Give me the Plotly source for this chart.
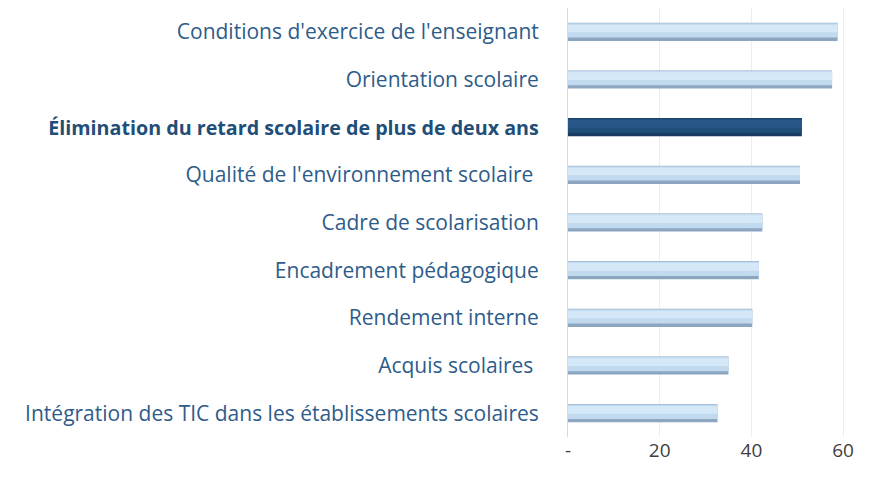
import plotly.graph_objects as go

# Indicator names, top to bottom
categories = [
    "Conditions d'exercice de l'enseignant",
    "Orientation scolaire",
    "Élimination du retard scolaire de plus de deux ans",
    "Qualité de l'environnement scolaire ",
    "Cadre de scolarisation",
    "Encadrement pédagogique",
    "Rendement interne",
    "Acquis scolaires ",
    "Intégration des TIC dans les établissements scolaires",
]
values = [58.8, 57.6, 51.0, 50.6, 42.4, 41.6, 40.2, 35.0, 32.6]
highlight = "Élimination du retard scolaire de plus de deux ans"

x_tickvals = [0, 20, 40, 60]
x_ticktext = ["-", "20", "40", "60"]

LABEL_BLUE = "#2E5C8A"
DARK_BLUE = "#1F4E79"
FONT = "Open Sans, Noto Sans, sans-serif"

# plot bottom-up so the first category sits on top
cats = categories[::-1]
vals = values[::-1]

edge_cols = ["#173B60" if c == highlight else "#8DA6C0" for c in cats]
body_cols = [DARK_BLUE if c == highlight else "#C2DAEF" for c in cats]
shine_cols = ["#275888" if c == highlight else "#D4E8F8" for c in cats]

ticktext = []
for c in cats:
    if c == highlight:
        ticktext.append(
            f"<b><span style='color:{DARK_BLUE};font-size:19.7px'>{c}</span></b>")
    else:
        ticktext.append(c)

fig = go.Figure()
# cylinder look: darker shell, lighter body, soft upper highlight
fig.add_trace(go.Bar(y=cats, x=vals, orientation="h", width=0.38,
                     marker=dict(color=edge_cols, line=dict(width=0)),
                     hoverinfo="skip"))
fig.add_trace(go.Bar(y=cats, x=vals, orientation="h", width=0.30, offset=-0.12,
                     marker=dict(color=body_cols, line=dict(width=0)),
                     hoverinfo="skip"))
fig.add_trace(go.Bar(y=cats, x=vals, orientation="h", width=0.16, offset=-0.01,
                     marker=dict(color=shine_cols, line=dict(width=0)),
                     hoverinfo="skip"))

fig.update_layout(
    width=869, height=483,
    margin=dict(l=568, r=14, t=8, b=46),
    barmode="overlay",
    showlegend=False,
    plot_bgcolor="white",
    paper_bgcolor="white",
    font=dict(family=FONT, size=21, color=LABEL_BLUE),
    xaxis=dict(
        range=[0, 62.6],
        tickvals=x_tickvals, ticktext=x_ticktext,
        showgrid=True, gridcolor="#EDEDED", gridwidth=1,
        zeroline=False, showline=False,
        tickfont=dict(family=FONT, size=19, color="#404040"),
        ticks="", ticklabelstandoff=0,
    ),
    yaxis=dict(
        categoryorder="array", categoryarray=cats,
        tickvals=cats, ticktext=ticktext,
        showgrid=False, zeroline=False,
        showline=True, linecolor="#D9D9D9", linewidth=1,
        ticks="", ticklabelstandoff=24,
        tickfont=dict(family=FONT, size=21, color=LABEL_BLUE),
    ),
)

fig.write_html("out.html")
